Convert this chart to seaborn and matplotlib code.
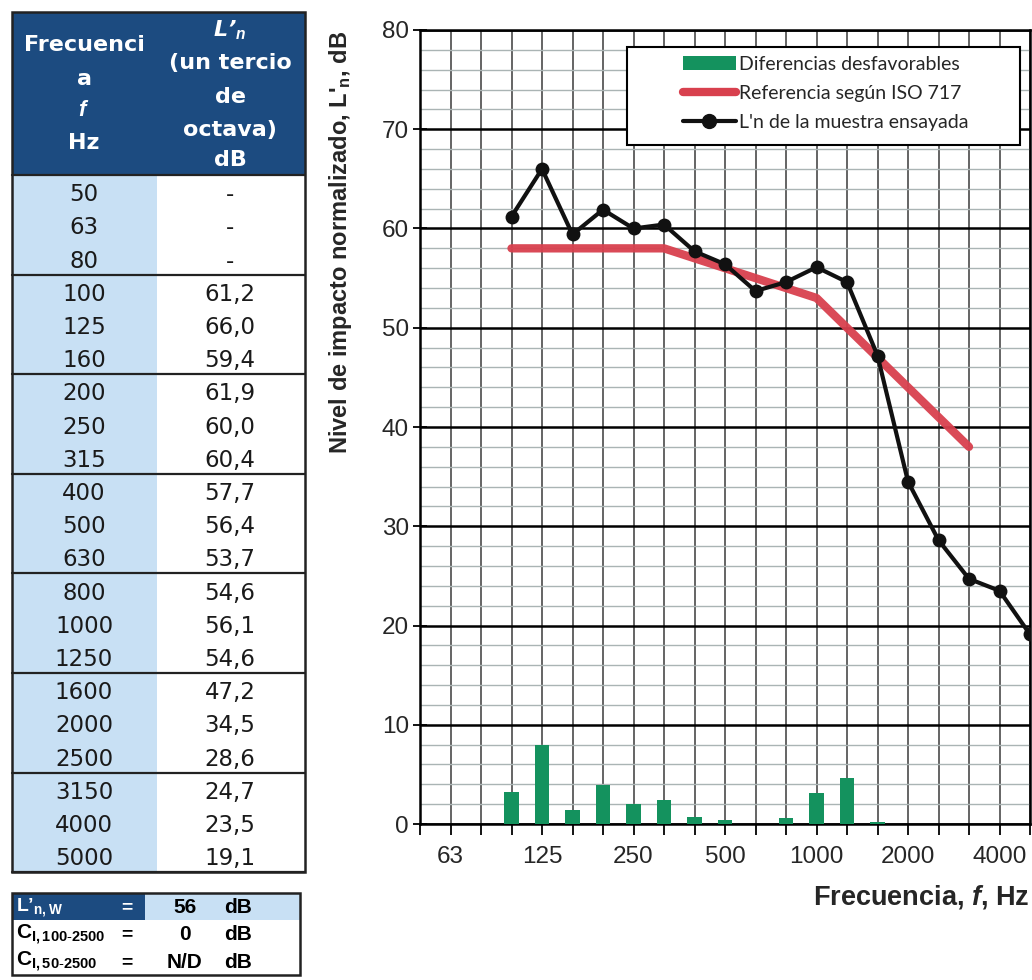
import numpy as np
import pandas as pd
import matplotlib.pyplot as plt
import seaborn as sns
from matplotlib.lines import Line2D
from matplotlib.patches import Patch, Rectangle

# one-third octave bands (Hz)
bands = ["50", "63", "80", "100", "125", "160", "200", "250", "315", "400",
         "500", "630", "800", "1000", "1250", "1600", "2000", "2500",
         "3150", "4000", "5000"]
# measured L'n (dB), no data below 100 Hz
ln_values = [np.nan, np.nan, np.nan, 61.2, 66.0, 59.4, 61.9, 60.0, 60.4, 57.7,
             56.4, 53.7, 54.6, 56.1, 54.6, 47.2, 34.5, 28.6, 24.7, 23.5, 19.1]
# shifted ISO 717 reference curve, 100..3150 Hz
ref_bands = ["100", "125", "160", "200", "250", "315", "400", "500", "630",
             "800", "1000", "1250", "1600", "2000", "2500", "3150"]
ref_values = [58, 58, 58, 58, 58, 58, 57, 56, 55, 54, 53, 50, 47, 44, 41, 38]
# unfavourable deviations, 100..3150 Hz
unfav_values = [3.2, 8.0, 1.4, 3.9, 2.0, 2.4, 0.7, 0.4, 0.0, 0.6, 3.1, 4.6,
                0.2, 0.0, 0.0, 0.0]
tick_bands = ["63", "125", "250", "500", "1000", "2000", "4000"]

# single number results
res_labels = ["L’$_{\\mathbf{n,W}}$", "C$_{\\mathbf{I,100\\text{-}2500}}$",
              "C$_{\\mathbf{I,50\\text{-}2500}}$"]
res_values = ["56", "0", "N/D"]

NAVY = "#1c4b80"
LIGHT = "#c8e0f4"
GREEN = "#14925e"
RED = "#d8404e"

sns.set_theme(style="white")
plt.rcParams["font.family"] = ["Liberation Sans", "DejaVu Sans"]
plt.rcParams["mathtext.fontset"] = "custom"
plt.rcParams["mathtext.rm"] = "Liberation Sans"
plt.rcParams["mathtext.bf"] = "Liberation Sans:bold"
plt.rcParams["mathtext.it"] = "Liberation Sans:italic:bold"

W, H = 1032, 980
fig = plt.figure(figsize=(W / 100, H / 100), dpi=100)

pos = {b: i for i, b in enumerate(bands)}
meas = pd.DataFrame({"pos": range(len(bands)), "Ln": ln_values}).dropna()
ref = pd.DataFrame({"pos": [pos[b] for b in ref_bands], "ref": ref_values})
unfav = pd.DataFrame({"pos": [pos[b] for b in ref_bands], "diff": unfav_values})

# ---------------- chart ----------------
ax = fig.add_axes([420 / W, 1 - 824 / H, 610 / W, 794 / H])
sns.barplot(data=unfav, x="pos", y="diff", native_scale=True, width=0.48,
            color=GREEN, saturation=1, linewidth=0, ax=ax, zorder=3)
sns.lineplot(data=ref, x="pos", y="ref", color=RED, lw=6, alpha=0.95,
             solid_capstyle="round", ax=ax, zorder=4)
sns.lineplot(data=meas, x="pos", y="Ln", color="#111111", lw=3, marker="o",
             markersize=10, markeredgewidth=0, ax=ax, zorder=5)

ax.set_xlim(0, len(bands) - 1)
ax.set_ylim(0, 80)
ax.set_xticks(range(len(bands)))
ax.set_xticklabels([b if b in tick_bands else "" for b in bands])
ax.set_yticks(range(0, 81, 10))
ax.set_yticks(range(0, 81, 2), minor=True)
ax.set_xlabel("")
ax.set_ylabel("")
ax.set_axisbelow(True)
ax.grid(which="major", axis="x", color="#3a3a3a", lw=1.1)
ax.grid(which="major", axis="y", color="black", lw=1.8)
ax.grid(which="minor", axis="y", color="#aab4b4", lw=1.0)
ax.tick_params(axis="x", which="major", direction="out", length=8, width=1.3,
               color="black", bottom=True, labelsize=17.5, pad=8)
ax.tick_params(axis="y", which="major", direction="inout", length=10, width=1.3,
               color="black", left=True, labelsize=17.5, pad=3)
ax.tick_params(axis="y", which="minor", length=0)
for s in ax.spines.values():
    s.set_color("black")
    s.set_linewidth(1.8)

fig.text(340 / W, 1 - 242 / H, r"Nivel de impacto normalizado, L'$_{\mathbf{n}}$, dB",
         rotation=90, ha="center", va="center", fontsize=17, fontweight="bold")
fig.text(1030 / W, 1 - 897 / H, r"Frecuencia, $\mathit{f}$, Hz",
         ha="right", va="center", fontsize=19.5, fontweight="bold")

# legend box
ax.add_patch(Rectangle((627 / W, 1 - 145 / H), 393 / W, 98 / H,
                       transform=fig.transFigure, facecolor="white",
                       edgecolor="black", lw=1.5, zorder=6, clip_on=False))
handles = [Patch(facecolor=GREEN, edgecolor="none"),
           Line2D([], [], color=RED, lw=6, solid_capstyle="round"),
           Line2D([], [], color="#111111", lw=3, marker="o", markersize=10)]
leg = ax.legend(handles, ["Diferencias desfavorables", "Referencia según ISO 717",
                          "L'n de la muestra ensayada"],
                loc="upper left", bbox_to_anchor=(683 / W, 1 - 56 / H),
                bbox_transform=fig.transFigure, frameon=False, borderpad=0,
                borderaxespad=0, handlelength=2.7, handletextpad=0.2,
                labelspacing=0.62, prop={"family": "Lato", "size": 14})
leg.set_zorder(7)

# ---------------- table ----------------
tx = fig.add_axes([0, 0, 1, 1])
tx.set_xlim(0, W)
tx.set_ylim(H, 0)
tx.axis("off")

x0, xm, x1 = 12, 157, 305
top, hdr = 12, 175
row_h = 33.2
bottom = hdr + row_h * len(bands)
tx.add_patch(Rectangle((x0, top), x1 - x0, hdr - top, color=NAVY, lw=0))
tx.add_patch(Rectangle((x0, hdr), xm - x0, bottom - hdr, color=LIGHT, lw=0))
tx.add_patch(Rectangle((x0, top), x1 - x0, bottom - top, fill=False,
                       edgecolor="#222222", lw=1.8))
for k in range(0, len(bands) + 1, 3):
    tx.plot([x0, x1], [hdr + k * row_h] * 2, color="#222222", lw=1.6)

hkw = dict(ha="center", va="center", color="white", fontsize=16,
           fontweight="bold", family="DejaVu Sans")
for txt, y in zip(["Frecuenci", "a", r"$\mathit{f}$", "Hz"], [45, 79, 110, 143]):
    tx.text(84, y, txt, **hkw)
tx.text(230, 30, "L’$_{\\mathit{n}}$", fontstyle="italic", **hkw)
for txt, y in zip(["(un tercio", "de", "octava)", "dB"], [63, 97, 130, 160]):
    tx.text(230, y, txt, **hkw)

for i, b in enumerate(bands):
    y = hdr + (i + 0.5) * row_h + 3
    v = ln_values[i]
    tx.text(84, y, b, ha="center", va="center", fontsize=16.5,
            family="DejaVu Sans", color="#1a1a1a")
    tx.text(230, y, "-" if np.isnan(v) else f"{v:.1f}".replace(".", ","),
            ha="center", va="center", fontsize=16.5, family="DejaVu Sans",
            color="#1a1a1a")

# results table
rt, rh = 893, 27.3
tx.add_patch(Rectangle((x0, rt), 145 - x0, rh, color=NAVY, lw=0))
tx.add_patch(Rectangle((145, rt), 300 - 145, rh, color=LIGHT, lw=0))
tx.add_patch(Rectangle((x0, rt), 300 - x0, 3 * rh, fill=False,
                       edgecolor="#222222", lw=1.8))
for i, (lab, val) in enumerate(zip(res_labels, res_values)):
    y = rt + (i + 0.5) * rh + 1
    c = "white" if i == 0 else "black"
    tx.text(16, y, lab, ha="left", va="center", fontsize=15 if i else 14,
            fontweight="bold", color=c)
    tx.text(127, y, "=", ha="center", va="center", fontsize=14,
            fontweight="bold", color=c)
    tx.text(185, y, val, ha="center", va="center", fontsize=15,
            fontweight="bold", color="black")
    tx.text(238, y, "dB", ha="center", va="center", fontsize=15,
            fontweight="bold", color="black")

fig.savefig("out.png", dpi=100)
